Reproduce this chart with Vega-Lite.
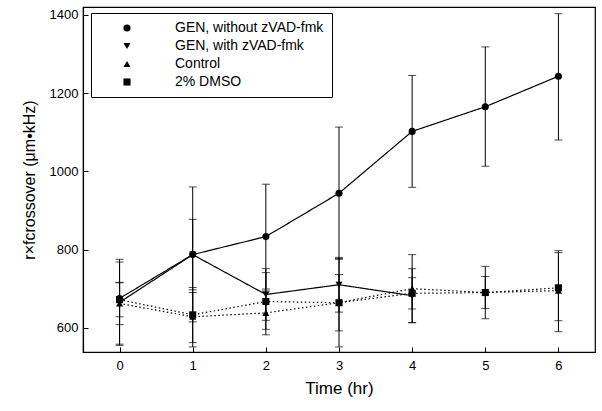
{
  "$schema": "https://vega.github.io/schema/vega-lite/v6.json",
  "width": 512,
  "height": 345,
  "autosize": "none",
  "padding": {"left": 83, "top": 7, "right": 7, "bottom": 59},
  "background": "white",
  "config": {
    "font": "Liberation Sans",
    "view": {"stroke": "black", "strokeWidth": 1.2},
    "axis": {"grid": false, "domainColor": "black", "tickColor": "black", "labelColor": "black", "titleColor": "black", "labelFont": "Liberation Sans", "titleFont": "Liberation Sans", "titleFontWeight": "normal"}
  },
  "data": {
    "values": [
      {"time": 0, "series": "GEN, without zVAD-fmk", "value": 675, "lo": 558, "hi": 775},
      {"time": 1, "series": "GEN, without zVAD-fmk", "value": 787, "lo": 615, "hi": 960},
      {"time": 2, "series": "GEN, without zVAD-fmk", "value": 833, "lo": 699, "hi": 967},
      {"time": 3, "series": "GEN, without zVAD-fmk", "value": 944, "lo": 775, "hi": 1113},
      {"time": 4, "series": "GEN, without zVAD-fmk", "value": 1102, "lo": 959, "hi": 1245},
      {"time": 5, "series": "GEN, without zVAD-fmk", "value": 1165, "lo": 1013, "hi": 1318},
      {"time": 6, "series": "GEN, without zVAD-fmk", "value": 1243, "lo": 1080, "hi": 1403},
      {"time": 0, "series": "GEN, with zVAD-fmk", "value": 665, "lo": 555, "hi": 768},
      {"time": 1, "series": "GEN, with zVAD-fmk", "value": 787, "lo": 697, "hi": 877},
      {"time": 2, "series": "GEN, with zVAD-fmk", "value": 685, "lo": 619, "hi": 751},
      {"time": 3, "series": "GEN, with zVAD-fmk", "value": 710, "lo": 640, "hi": 780},
      {"time": 4, "series": "GEN, with zVAD-fmk", "value": 682, "lo": 613, "hi": 751},
      {"time": 0, "series": "Control", "value": 662, "lo": 608, "hi": 716},
      {"time": 1, "series": "Control", "value": 628, "lo": 562, "hi": 690},
      {"time": 2, "series": "Control", "value": 638, "lo": 582, "hi": 694},
      {"time": 3, "series": "Control", "value": 664, "lo": 592, "hi": 736},
      {"time": 4, "series": "Control", "value": 700, "lo": 613, "hi": 787},
      {"time": 5, "series": "Control", "value": 690, "lo": 649, "hi": 731},
      {"time": 6, "series": "Control", "value": 695, "lo": 590, "hi": 797},
      {"time": 0, "series": "2% DMSO", "value": 672, "lo": 628, "hi": 715},
      {"time": 1, "series": "2% DMSO", "value": 633, "lo": 551, "hi": 703},
      {"time": 2, "series": "2% DMSO", "value": 667, "lo": 596, "hi": 741},
      {"time": 3, "series": "2% DMSO", "value": 664, "lo": 551, "hi": 777},
      {"time": 4, "series": "2% DMSO", "value": 688, "lo": 648, "hi": 728},
      {"time": 5, "series": "2% DMSO", "value": 690, "lo": 623, "hi": 757},
      {"time": 6, "series": "2% DMSO", "value": 702, "lo": 618, "hi": 792}
    ]
  },
  "encoding": {
    "x": {
      "field": "time", "type": "quantitative",
      "scale": {"domain": [-0.5, 6.5], "nice": false, "zero": false},
      "axis": {"values": [0, 1, 2, 3, 4, 5, 6], "tickSize": -5, "labelPadding": 12, "labelFontSize": 13, "title": "Time (hr)", "titleFontSize": 17, "titlePadding": 8, "domainWidth": 1.2, "tickWidth": 1}
    }
  },
  "layer": [
    {
      "mark": {"type": "errorbar", "ticks": {"size": 8, "color": "black"}, "rule": {"color": "black", "strokeWidth": 1}},
      "encoding": {
        "y": {"field": "lo", "type": "quantitative",
          "scale": {"domain": [538, 1420], "nice": false, "zero": false},
          "axis": {"values": [600, 800, 1000, 1200, 1400], "format": "d", "tickSize": -5, "labelPadding": 10, "labelFontSize": 13, "title": "r×fcrossover (μm•kHz)", "titleFontSize": 16, "titlePadding": 12, "domainWidth": 1.2, "tickWidth": 1}},
        "y2": {"field": "hi"},
        "detail": {"field": "series"}
      }
    },
    {
      "mark": {"type": "line", "color": "black", "strokeWidth": 1.2},
      "encoding": {
        "y": {"field": "value", "type": "quantitative"},
        "strokeDash": {
          "field": "series", "type": "nominal",
          "scale": {"domain": ["GEN, without zVAD-fmk", "GEN, with zVAD-fmk", "Control", "2% DMSO"], "range": [[1, 0], [1, 0], [1.5, 2.5], [1.5, 2.5]]},
          "legend": {
            "title": null, "orient": "none", "legendX": 8, "legendY": 6, "padding": 8,
            "strokeColor": "black", "fillColor": "white",
            "labelFontSize": 14, "labelColor": "black", "labelFont": "Liberation Sans", "labelOffset": 41, "rowPadding": 4, "labelLimit": 300,
            "symbolSize": 50, "symbolOffset": 21, "symbolOpacity": 1, "symbolStrokeColor": "black", "symbolFillColor": "black", "symbolStrokeWidth": 1
          }
        }
      }
    },
    {
      "mark": {"type": "point", "filled": true, "color": "black", "opacity": 1, "size": 50},
      "encoding": {
        "y": {"field": "value", "type": "quantitative"},
        "shape": {
          "field": "series", "type": "nominal",
          "scale": {"domain": ["GEN, without zVAD-fmk", "GEN, with zVAD-fmk", "Control", "2% DMSO"], "range": ["circle", "triangle-down", "triangle-up", "square"]},
          "legend": {
            "title": null, "orient": "none", "legendX": 8, "legendY": 6, "padding": 8,
            "strokeColor": "black", "fillColor": "white",
            "labelFontSize": 14, "labelColor": "black", "labelFont": "Liberation Sans", "labelOffset": 41, "rowPadding": 4, "labelLimit": 300,
            "symbolSize": 50, "symbolOffset": 21, "symbolOpacity": 1, "symbolStrokeColor": "black", "symbolFillColor": "black", "symbolStrokeWidth": 1
          }
        }
      }
    }
  ]
}
